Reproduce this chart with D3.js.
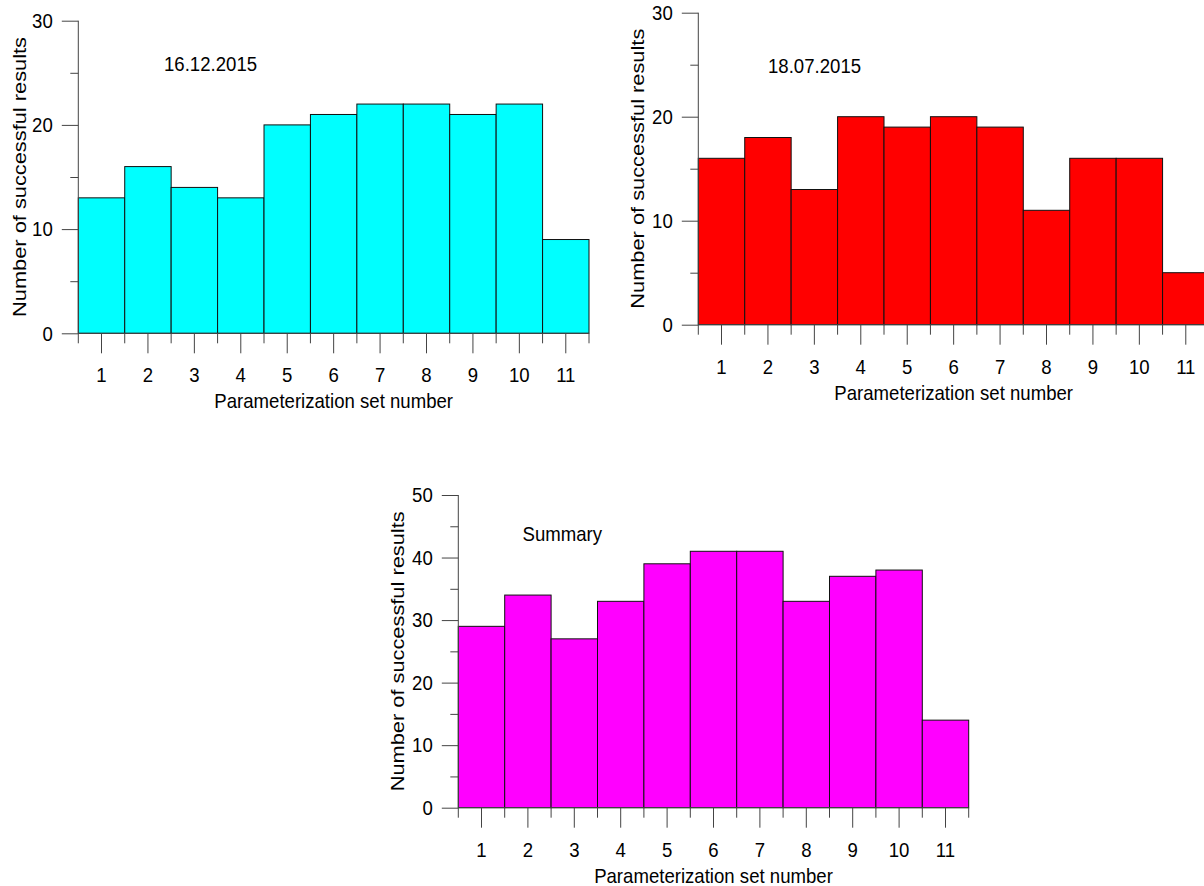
<!DOCTYPE html>
<html>
<head>
<meta charset="utf-8">
<script src="https://cdn.jsdelivr.net/npm/d3@7"></script>
<style>
  html, body { margin: 0; padding: 0; background: #fff; }
  svg { display: block; }
  text { font-family: "Liberation Sans", Arial, sans-serif; fill: #000; }
</style>
</head>
<body>
<svg id="chart" width="1204" height="886"></svg>
<script>
// Parameterization sets 1..11
const categories = ["1", "2", "3", "4", "5", "6", "7", "8", "9", "10", "11"];

// Number of successful results per set
const results16Dec2015 = [13, 16, 14, 13, 20, 21, 22, 22, 21, 22, 9];
const results18Jul2015 = [16, 18, 13, 20, 19, 20, 19, 11, 16, 16, 5];
const resultsSummary   = [29, 34, 27, 33, 39, 41, 41, 33, 37, 38, 14];

// Axis tick values
const ticksDate = [0, 10, 20, 30];
const minorDate = [5, 15, 25];
const ticksSummary = [0, 10, 20, 30, 40, 50];
const minorSummary = [5, 15, 25, 35, 45];

const panelTitles = ["16.12.2015", "18.07.2015", "Summary"];
const xTitle = "Parameterization set number";
const yTitle = "Number of successful results";

const svg = d3.select("#chart");
const FONT = 18.6;     // horizontal text size
const STRETCH = 1.1;   // glyphs are drawn slightly taller than wide
const FAMILY = "Liberation Sans, Arial, sans-serif";

const panels = [
  { values: results16Dec2015, color: "#00ffff", title: panelTitles[0],
    left: 78.3, right: 589, top: 20.7, bottom: 333.3, yMax: 30,
    ticks: ticksDate, minor: minorDate, titleX: 164, titleY: 71, yTitleX: 25.5 },
  { values: results18Jul2015, color: "#ff0000", title: panelTitles[1],
    left: 698.3, right: 1209, top: 12.7, bottom: 324.7, yMax: 30,
    ticks: ticksDate, minor: minorDate, titleX: 768, titleY: 72.5, yTitleX: 644 },
  { values: resultsSummary, color: "#ff00ff", title: panelTitles[2],
    left: 458.3, right: 968.7, top: 495, bottom: 807.7, yMax: 50,
    ticks: ticksSummary, minor: minorSummary, titleX: 522.5, titleY: 541, yTitleX: 403.5 }
];

// horizontal text drawn at (x, y) baseline, stretched vertically
function label(g, x, y, txt, anchor) {
  return g.append("text")
    .attr("transform", `translate(${x},${y}) scale(1,${STRETCH})`)
    .attr("text-anchor", anchor || "start")
    .attr("font-size", FONT)
    .attr("font-family", FAMILY)
    .text(txt);
}

panels.forEach(p => {
  const g = svg.append("g");

  const x = d3.scaleBand().domain(categories).range([p.left, p.right]).padding(0);
  const y = d3.scaleLinear().domain([0, p.yMax]).range([p.bottom, p.top]);

  // bars
  g.selectAll("rect.bar")
    .data(p.values)
    .join("rect")
    .attr("class", "bar")
    .attr("x", (d, i) => x(categories[i]))
    .attr("y", d => y(d))
    .attr("width", x.bandwidth())
    .attr("height", d => y(0) - y(d))
    .attr("fill", p.color)
    .attr("stroke", "#111")
    .attr("stroke-width", 1);

  // y axis: major ticks with labels
  const yAxis = g.append("g")
    .attr("transform", `translate(${p.left},0)`)
    .call(d3.axisLeft(y).tickValues(p.ticks).tickSize(16.5).tickPadding(9).tickFormat(d3.format("d")));
  yAxis.select(".domain").attr("stroke", "#444").attr("d", `M0,${p.bottom}V${p.top}`);
  yAxis.selectAll(".tick line").attr("stroke", "#444");
  yAxis.selectAll(".tick text")
    .attr("x", null).attr("dy", null)
    .attr("transform", `translate(-25.5,6.8) scale(1,${STRETCH})`)
    .attr("font-size", FONT).attr("font-family", FAMILY).attr("fill", "#000");

  // y axis: minor ticks
  const yMinor = g.append("g")
    .attr("transform", `translate(${p.left},0)`)
    .call(d3.axisLeft(y).tickValues(p.minor).tickSize(8).tickFormat(""));
  yMinor.select(".domain").remove();
  yMinor.selectAll(".tick line").attr("stroke", "#444");

  // x axis: long ticks at set centres with labels
  const xAxis = g.append("g")
    .attr("transform", `translate(0,${p.bottom})`)
    .call(d3.axisBottom(x).tickSize(20).tickPadding(8));
  xAxis.select(".domain").attr("stroke", "#444").attr("d", `M${p.left},0H${p.right}`);
  xAxis.selectAll(".tick line").attr("stroke", "#444");
  xAxis.selectAll(".tick text")
    .attr("y", null).attr("dy", null)
    .attr("transform", `translate(0,49) scale(1,${STRETCH})`)
    .attr("font-size", FONT).attr("font-family", FAMILY).attr("fill", "#000");

  // x axis: short ticks at set boundaries
  const bounds = categories.map(c => x(c)).concat([x(categories[categories.length - 1]) + x.bandwidth()]);
  g.append("g").selectAll("line")
    .data(bounds)
    .join("line")
    .attr("x1", d => d).attr("x2", d => d)
    .attr("y1", p.bottom).attr("y2", p.bottom + 10)
    .attr("stroke", "#444");

  // axis titles
  label(g, (p.left + p.right) / 2, p.bottom + 75, xTitle, "middle");

  const yMid = (p.top + p.bottom) / 2;
  g.append("text")
    .attr("transform", `translate(${p.yTitleX},${yMid}) rotate(-90)`)
    .attr("text-anchor", "middle")
    .attr("font-size", 18)
    .attr("font-family", FAMILY)
    .attr("textLength", 280)
    .attr("lengthAdjust", "spacingAndGlyphs")
    .text(yTitle);

  // panel title
  label(g, p.titleX, p.titleY, p.title);
});
</script>
</body>
</html>
